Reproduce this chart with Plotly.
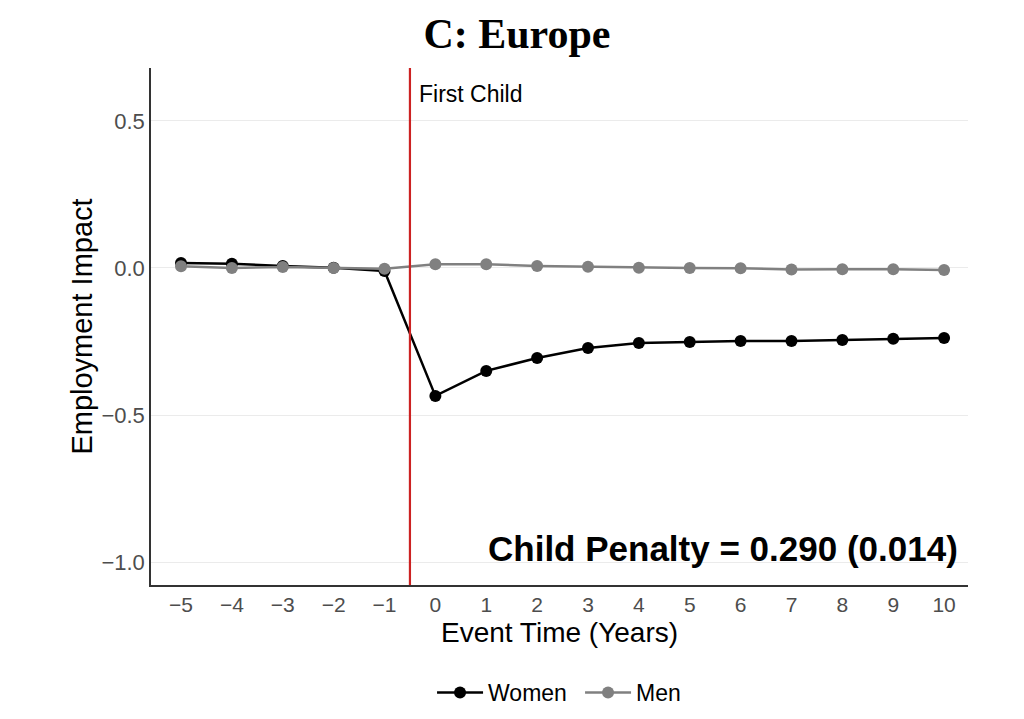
import plotly.graph_objects as go

event_time = [-5, -4, -3, -2, -1, 0, 1, 2, 3, 4, 5, 6, 7, 8, 9, 10]
women = [0.017, 0.014, 0.007, 0.001, -0.010, -0.435, -0.350, -0.306, -0.272, -0.255,
         -0.252, -0.248, -0.248, -0.245, -0.241, -0.238]
men = [0.006, 0.000, 0.003, 0.000, -0.003, 0.013, 0.013, 0.007, 0.004, 0.001,
       0.000, -0.001, -0.005, -0.004, -0.004, -0.007]
women_se = [0.006] * 16
men_se = [0.004] * 16
x_ticks = event_time
y_ticks = [-1.0, -0.5, 0.0, 0.5]
y_tick_labels = ["\u22121.0", "\u22120.5", "0.0", "0.5"]
penalty_text = "Child Penalty = 0.290 (0.014)"

fig = go.Figure()
fig.add_trace(go.Scatter(
    x=event_time, y=women, name="Women", mode="lines+markers",
    line=dict(color="black", width=2.5),
    marker=dict(color="black", size=12),
    error_y=dict(type="data", array=women_se, color="black", thickness=1.5, width=4),
))
fig.add_trace(go.Scatter(
    x=event_time, y=men, name="Men", mode="lines+markers",
    line=dict(color="#808080", width=2.5),
    marker=dict(color="#808080", size=12),
    error_y=dict(type="data", array=men_se, color="#808080", thickness=1.5, width=4),
))

fig.add_shape(type="line", xref="x", yref="paper", x0=-0.5, x1=-0.5, y0=0, y1=1,
              line=dict(color="#cc2222", width=2.2))
fig.add_annotation(x=-0.5, y=0.95, xref="x", yref="paper", text="First Child",
                   showarrow=False, xanchor="left", xshift=7, yanchor="middle",
                   font=dict(family="Liberation Sans, Arial", size=23, color="black"))
fig.add_annotation(x=0.99, y=0.07, xref="paper", yref="paper", text="<b>" + penalty_text + "</b>",
                   showarrow=False, xanchor="right", yanchor="middle",
                   font=dict(family="Liberation Sans, Arial", size=35, color="black"))
fig.add_annotation(x=0.5, y=0, xref="paper", yref="paper", text="Event Time (Years)",
                   showarrow=False, xanchor="center", yanchor="middle", yshift=-47,
                   font=dict(family="Liberation Sans, Arial", size=28, color="black"))

fig.update_layout(
    width=1024, height=719,
    paper_bgcolor="white", plot_bgcolor="white",
    margin=dict(l=143, r=64, t=60, b=142),
    title=dict(text="<b>C: Europe</b>", x=0.497, xanchor="center", y=0.965, yanchor="middle",
               font=dict(family="Liberation Serif, DejaVu Serif, serif", size=42, color="black")),
    font=dict(family="Liberation Sans, Arial", color="black"),
    showlegend=True,
    legend=dict(orientation="h", x=0.344, xanchor="left", y=-0.208, yanchor="middle",
                font=dict(size=23, color="black"), itemwidth=46,
                entrywidth=87, entrywidthmode="pixels"),
    xaxis=dict(
        range=[-5.59, 10.47], tickmode="array", tickvals=x_ticks,
        ticktext=[("\u2212" + str(-v)) if v < 0 else str(v) for v in x_ticks],
        showgrid=False, zeroline=False,
        showline=True, linecolor="#333333", linewidth=1.5,
        ticks="", ticklen=0, tickfont=dict(size=21, color="#4d4d4d"),
    ),
    yaxis=dict(
        range=[-1.078, 0.68], tickmode="array", tickvals=y_ticks, ticktext=y_tick_labels,
        showgrid=True, gridcolor="#ebebeb", gridwidth=1, zeroline=False,
        showline=True, linecolor="#333333", linewidth=1.5,
        ticks="", tickfont=dict(size=22, color="#4d4d4d"),
        title=dict(text="Employment Impact", font=dict(size=29, color="black"), standoff=0),
    ),
)

fig.write_html("out.html")
